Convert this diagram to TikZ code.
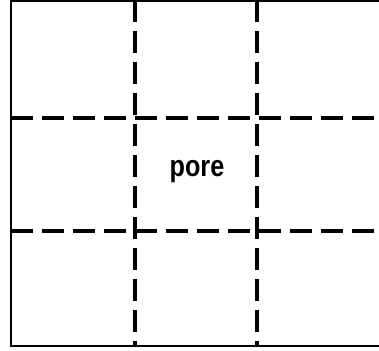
\documentclass[tikz,border=0pt]{standalone}
\usepackage{fontspec}
\setmainfont{Liberation Sans}
\tikzset{
  frame/.style={line width=2.2pt, black},
  gridline/.style={line width=3.2pt, black, dash pattern=on 22pt off 9pt},
  label/.style={font=\bfseries\fontsize{30}{34}\selectfont, inner sep=0pt, anchor=base}
}
\begin{document}
\begin{tikzpicture}[x=1pt,y=1pt]
  \useasboundingbox (0,0) rectangle (379,350);
  % vertical dashed lines
  \draw[gridline] (135,350) -- (135,4);
  \draw[gridline] (257,350) -- (257,4);
  % horizontal dashed lines
  \draw[gridline] (11,232) -- (379,232);
  \draw[gridline] (11,119) -- (379,119);
  % frame (right side lies outside the picture)
  \draw[frame] (379,348.8) -- (11,348.8) -- (11,4) -- (379,4);
  \node[label] (pore) at (197,173) {\scalebox{0.84}[1]{pore}};
\end{tikzpicture}
\end{document}
